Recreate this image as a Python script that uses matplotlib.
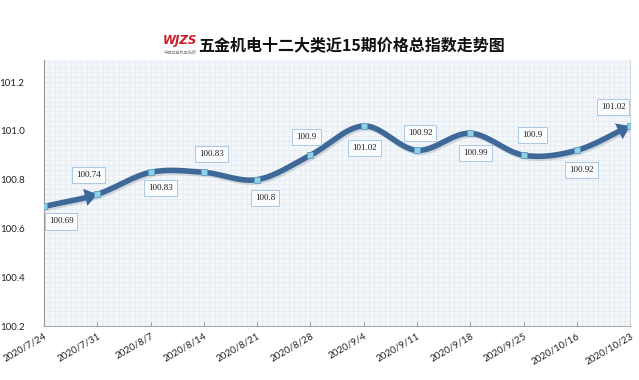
import numpy as np
import matplotlib.pyplot as plt
from matplotlib.ticker import MultipleLocator
from matplotlib.patches import FancyArrowPatch

plt.rcParams['font.family'] = ['Lato', 'DejaVu Sans']

# 数据
dates = ['2020/7/24', '2020/7/31', '2020/8/7', '2020/8/14', '2020/8/21', '2020/8/28',
         '2020/9/4', '2020/9/11', '2020/9/18', '2020/9/25', '2020/10/16', '2020/10/23']
values = [100.69, 100.74, 100.83, 100.83, 100.8, 100.9,
          101.02, 100.92, 100.99, 100.9, 100.92, 101.02]
labels = ['100.69', '100.74', '100.83', '100.83', '100.8', '100.9',
          '101.02', '100.92', '100.99', '100.9', '100.92', '101.02']
title = '五金机电十二大类近15期价格总指数走势图'

# 标签偏移（像素）
offsets = [(17, -15), (-9, 19), (10, -16), (8, 18), (8, -18), (-4, 18),
           (1, -22), (3, 17), (5, -20), (9, 20), (5, -20), (-17, 19)]

fig = plt.figure(figsize=(6.39, 3.8), dpi=100)
ax = fig.add_axes([0.069, 0.142, 0.917, 0.70])
ax.set_facecolor('#f4f7f9')

x = np.arange(len(values))
y = np.array(values)

# 平滑曲线 (Catmull-Rom 方式绘制)
m = np.zeros_like(y)
m[1:-1] = (y[2:] - y[:-2]) / 2
m[0] = y[1] - y[0]
m[-1] = y[-1] - y[-2]
xs, ys = [], []
for i in range(len(x) - 1):
    t = np.linspace(0, 1, 30)
    h00 = 2*t**3 - 3*t**2 + 1
    h10 = t**3 - 2*t**2 + t
    h01 = -2*t**3 + 3*t**2
    h11 = t**3 - t**2
    xs.extend(x[i] + t)
    ys.extend(h00*y[i] + h10*m[i] + h01*y[i+1] + h11*m[i+1])
xs = np.array(xs)
ys = np.array(ys)

line_c = '#3d6898'
# 阴影
ax.plot(xs + 0.03, ys - 0.008, color='#a8b2ba', lw=4, alpha=0.45, zorder=2)
ax.plot(xs[:-5], ys[:-5], color=line_c, lw=4, solid_capstyle='butt', zorder=3)

# 箭头
style = '-|>,head_length=0.6,head_width=0.42'
ar1 = FancyArrowPatch((x[1] - 0.2, y[1] - 0.011), (x[1], y[1]), arrowstyle=style,
                      mutation_scale=15, color=line_c, lw=0, shrinkA=0, shrinkB=0, zorder=4)
ar2 = FancyArrowPatch((xs[-6], ys[-6]), (x[-1], y[-1]), arrowstyle=style,
                      mutation_scale=15, color=line_c, lw=0, shrinkA=0, shrinkB=0, zorder=4)
ax.add_patch(ar1)
ax.add_patch(ar2)

ax.plot(x, y, 's', ms=4.5, mfc='#8fd0e6', mec='#5e9fc4', mew=0.6, zorder=5)

for xi, yi, lab, (dx, dy) in zip(x, y, labels, offsets):
    ax.annotate(lab, (xi, yi), xytext=(dx, dy), textcoords='offset pixels',
                ha='center', va='center', fontsize=6.5, family='Liberation Serif', color='#222222',
                bbox=dict(boxstyle='square,pad=0.45', fc='#f9fbfd', ec='#a9c8e6', lw=0.7), zorder=6)

ax.set_xlim(0, len(values) - 1)
ax.set_ylim(100.2, 101.29)
ax.set_xticks(x)
ax.set_xticklabels(dates, rotation=30, ha='right', rotation_mode='anchor', fontsize=7, color='#222222')
ax.set_yticks([100.2, 100.4, 100.6, 100.8, 101.0, 101.2])
ax.set_yticklabels(['100.2', '100.4', '100.6', '100.8', '101.0', '101.2'], fontsize=7, color='#222222')
ax.yaxis.set_minor_locator(MultipleLocator(0.02))
ax.xaxis.set_minor_locator(MultipleLocator(0.1))
ax.grid(which='both', color='#e2eaf0', lw=0.5)
ax.set_axisbelow(True)
ax.tick_params(axis='y', length=0, pad=14)
ax.tick_params(axis='x', direction='in', length=3, color='#999999', pad=4)
ax.tick_params(which='minor', length=0)
ax.spines['top'].set_visible(False)
ax.spines['right'].set_color('#d0d8de')
ax.spines['left'].set_color('#999999')
ax.spines['bottom'].set_color('#aaaaaa')

# 标题与标志
fig.text(0.55, 0.882, title, ha='center', va='center', fontsize=11.5, fontweight='bold',
         family=['Noto Sans CJK SC', 'DejaVu Sans'], color='#111111')
fig.text(0.282, 0.893, 'WJZS', ha='center', va='center', fontsize=8.5, fontweight='bold',
         style='italic', family='DejaVu Sans', color='#c8202a')
fig.text(0.282, 0.862, '中国五金机电指数', ha='center', va='center', fontsize=3,
         family=['Noto Sans CJK SC', 'DejaVu Sans'], color='#888888')

fig.savefig('out.png', dpi=100)
